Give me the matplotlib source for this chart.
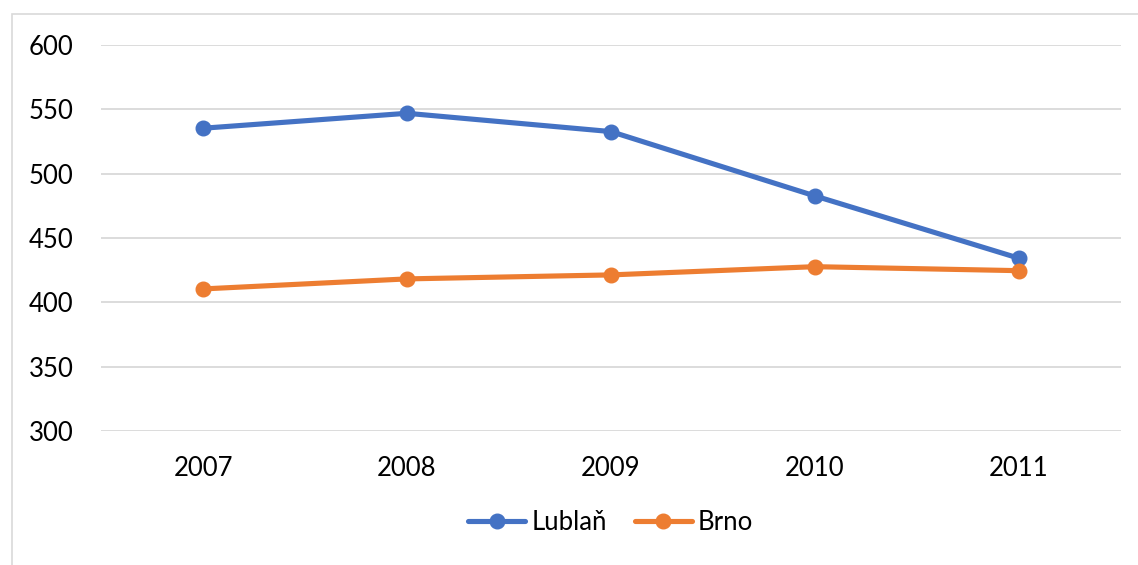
import matplotlib.pyplot as plt
from matplotlib.patches import Rectangle

years = ["2007", "2008", "2009", "2010", "2011"]
lublan = [535.3, 546.9, 532.7, 482.7, 434.3]
brno = [410.4, 418.2, 421.3, 427.7, 424.6]
yticks = [300, 350, 400, 450, 500, 550, 600]

plt.rcParams['font.family'] = ['Lato', 'DejaVu Sans']

fig = plt.figure(figsize=(11.38, 5.65), dpi=100)
ax = fig.add_axes([0.0888, 0.2372, 0.896, 0.6832])

# outer chart border
fig.patches.append(Rectangle((12 / 1138, -0.05), 1.2, 1 - 14 / 565 + 0.05,
                             transform=fig.transFigure, fill=False,
                             edgecolor='#D9D9D9', linewidth=1.2))

x = range(len(years))
ax.plot(x, lublan, color='#4472C4', lw=3.7, marker='o', ms=10.5,
        label='Lublaň', solid_capstyle='round')
ax.plot(x, brno, color='#ED7D31', lw=3.7, marker='o', ms=10.5,
        label='Brno', solid_capstyle='round')

ax.set_xlim(-0.5, len(years) - 0.5)
ax.set_ylim(300, 600)
ax.set_yticks(yticks)
ax.set_xticks(list(x))
ax.set_xticklabels(years)
ax.yaxis.grid(True, color='#D9D9D9', lw=1.3)
ax.set_axisbelow(True)
for s in ax.spines.values():
    s.set_visible(False)
ax.tick_params(length=0, labelsize=18.5, colors='black')
ax.tick_params(axis='y', pad=20)
ax.tick_params(axis='x', pad=18)

ax.legend(loc='center', bbox_to_anchor=(0.5, -0.236), ncol=2, frameon=False,
          fontsize=18.5, handlelength=2.2, handletextpad=0.25,
          columnspacing=1.1)

fig.savefig('out.png', dpi=100)
